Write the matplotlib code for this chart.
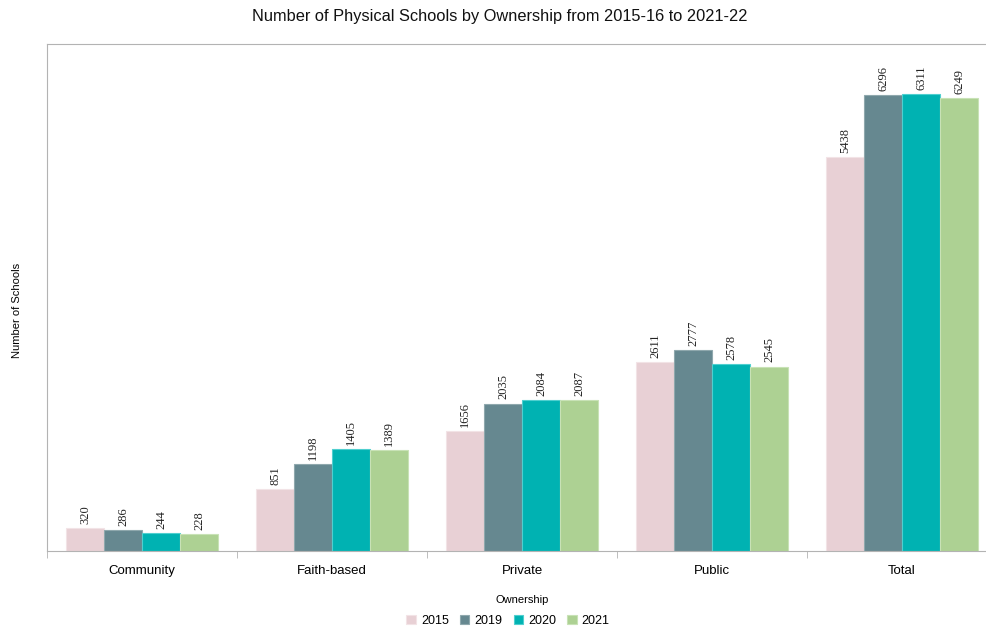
import matplotlib.pyplot as plt
import numpy as np

# 数据
categories = ['Community', 'Faith-based', 'Private', 'Public', 'Total']
years = ['2015', '2019', '2020', '2021']
v2015 = [320, 851, 1656, 2611, 5438]
v2019 = [286, 1198, 2035, 2777, 6296]
v2020 = [244, 1405, 2084, 2578, 6311]
v2021 = [228, 1389, 2087, 2545, 6249]
series = [v2015, v2019, v2020, v2021]
colors = ['#e8d0d5', '#668890', '#00b2b2', '#add193']
edges = ['#f2e3e6', '#8fa8ad', '#4fcfcf', '#c8e2b6']

plt.rcParams['font.family'] = ['Liberation Sans', 'DejaVu Sans']

fig = plt.figure(figsize=(9.86, 6.31), dpi=100)
# 右边稍微超出画布，和原图一致
ax = fig.add_axes([0.0477, 0.1268, 0.9635, 0.8035])

x = np.arange(len(categories))
w = 0.2
for i, (vals, c, ec) in enumerate(zip(series, colors, edges)):
    pos = x + (i - 1.5) * w
    ax.bar(pos, vals, width=w, color=c, edgecolor=ec, linewidth=0.8, label=years[i])
    for p, v in zip(pos, vals):
        ax.annotate(str(v), (p, v), xytext=(0, 3), textcoords='offset points',
                    rotation=90, ha='center', va='bottom', fontsize=9,
                    family='Liberation Serif', color='#222222')

ax.set_xlim(-0.5, len(categories) - 0.5)
ax.set_ylim(0, 7000)
ax.set_yticks([])
ax.set_xticks(x)
ax.set_xticklabels(categories, fontsize=9.5)
ax.set_xticks(np.arange(len(categories) + 1) - 0.5, minor=True)
ax.tick_params(axis='x', which='major', length=0, pad=10)
ax.tick_params(axis='x', which='minor', length=5, color='#b3b3b3')

for s in ['left', 'top', 'bottom']:
    ax.spines[s].set_color('#b3b3b3')
ax.spines['right'].set_visible(False)

# 标题
fig.text(0.507, 1 - 16 / 631, 'Number of Physical Schools by Ownership from 2015-16 to 2021-22',
         fontsize=11.8, ha='center', va='center', color='#111111')
ax.set_ylabel('Number of Schools', fontsize=8)
ax.yaxis.set_label_coords(-0.026, 0.475)
ax.set_xlabel('Ownership', fontsize=8, labelpad=13)

fig.legend(loc='center', bbox_to_anchor=(508 / 986, 1 - 621 / 631), ncol=4, frameon=False,
           fontsize=9, handlelength=0.75, handleheight=0.75, handletextpad=0.4,
           columnspacing=0.9)

fig.savefig('out.png', dpi=100)
